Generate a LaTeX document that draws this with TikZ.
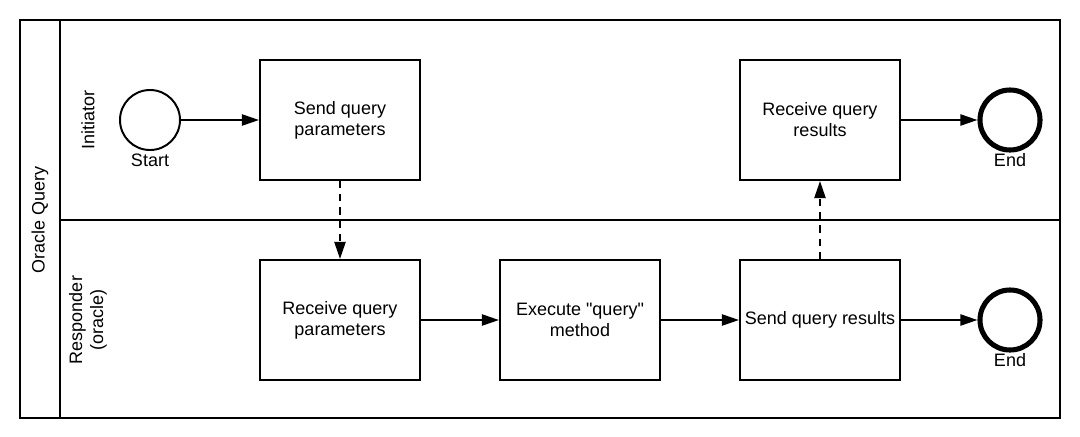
\documentclass[tikz,border=0pt]{standalone}
\usepackage{fontspec}
\setmainfont{Liberation Sans}
\usetikzlibrary{arrows.meta}

\begin{document}
\begin{tikzpicture}[
			x=0.025cm, y=-0.025cm,
			% Define the styles for the nodes and the flows
			every node/.style={font=\fontsize{12.8}{15}\selectfont},
			task/.style={rectangle, draw, line width=1.4pt, minimum width=4cm, minimum height=3cm, align=center},
			startev/.style={circle, draw, line width=1.4pt, minimum size=1.5cm, inner sep=0pt},
			endev/.style={circle, draw, line width=3.6pt, minimum size=1.5cm, inner sep=0pt},
			flow/.style={line width=1.4pt, -{Triangle[length=4.3mm, width=2.8mm]}},
			msg/.style={flow, dash pattern=on 1.8mm off 1.5mm}
			]

			\useasboundingbox (0, 0) rectangle (1080, 436);

			% pool and lanes
			\draw[line width=1.4pt] (20, 20) rectangle (1060, 418);
			\draw[line width=1.4pt] (60, 20)--(60, 418);
			\draw[line width=1.4pt] (60, 220)--(1060, 220);

			\node[rotate=90] (pool) at (40, 220) {Oracle Query};
			\node[rotate=90] (lane1) at (88, 120) {Initiator};
			\node[rotate=90, align=center] (lane2) at (88, 320) {Responder\\(oracle)};

			% initiator
			\node (s) at (150, 120) [startev] {};
			\node (slbl) at (150, 160) {Start};
			\node (t1) at (340, 120) [task] {Send query\\parameters};
			\node (t5) at (820, 120) [task] {Receive query\\results};
			\node (e1) at (1010, 120) [endev] {};
			\node (e1lbl) at (1010, 160) {End};

			% responder
			\node (t2) at (340, 320) [task] {Receive query\\parameters};
			\node (t3) at (580, 320) [task] {Execute \textquotedbl query\textquotedbl\\method};
			\node (t4) at (820, 320) [task] {Send query results};
			\node (e2) at (1010, 320) [endev] {};
			\node (e2lbl) at (1010, 360) {End};

			\draw[flow] (s)--(t1);
			\draw[flow] (t5)--(e1);
			\draw[flow] (t2)--(t3);
			\draw[flow] (t3)--(t4);
			\draw[flow] (t4)--(e2);

			\draw[msg] (t1)--(t2);
			\draw[msg] (t4)--(t5);

		\end{tikzpicture}
\end{document}
